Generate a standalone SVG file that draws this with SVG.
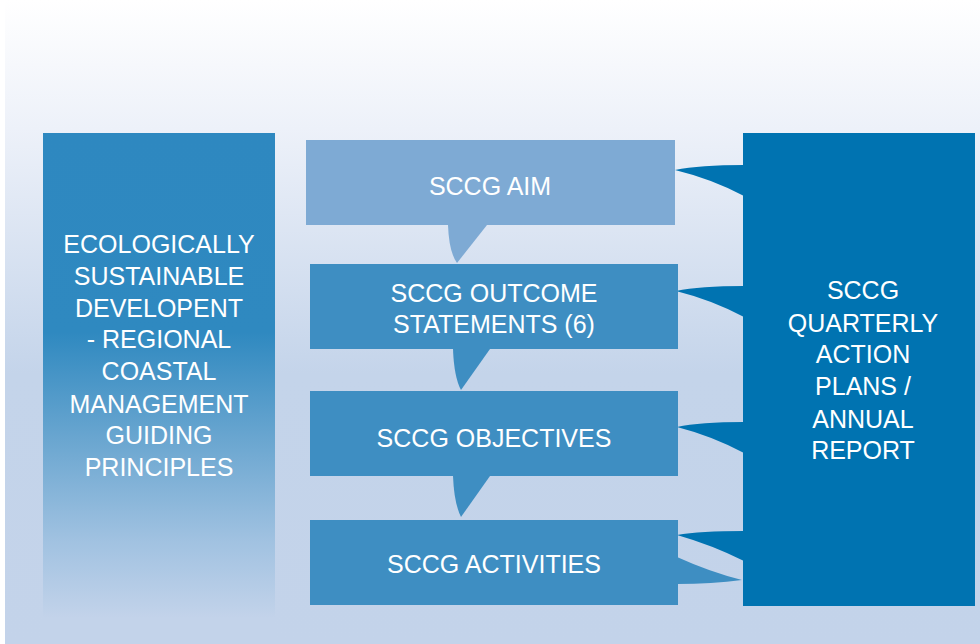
<svg xmlns="http://www.w3.org/2000/svg" width="980" height="644" viewBox="0 0 980 644">
<defs>
<linearGradient id="bg" x1="0" y1="0" x2="0" y2="644" gradientUnits="userSpaceOnUse">
<stop offset="0" stop-color="#ffffff"/>
<stop offset="0.2" stop-color="#edf1f9"/>
<stop offset="0.58" stop-color="#c4d4ea"/>
<stop offset="1" stop-color="#c3d3ea"/>
</linearGradient>
<linearGradient id="lg" x1="0" y1="133" x2="0" y2="644" gradientUnits="userSpaceOnUse">
<stop offset="0" stop-color="#2e88c0"/>
<stop offset="0.39" stop-color="#2f89c0"/>
<stop offset="0.6" stop-color="#6aa6d0"/>
<stop offset="0.8" stop-color="#a1c2e1"/>
<stop offset="0.95" stop-color="#c3d3ea"/>
</linearGradient>
</defs>
<style>
.t{font-family:"Liberation Sans",Arial,sans-serif;font-size:25px;fill:#ffffff;text-anchor:middle}
.mid{fill:#3e8ec2}
.aim{fill:#7eaad4}
.dark{fill:#0073b1}
</style>
<rect x="0" y="0" width="980" height="644" fill="#ffffff"/>
<rect x="5" y="0" width="975" height="644" fill="url(#bg)"/>

<g id="left">
<rect x="43" y="133" width="232" height="511" fill="url(#lg)"/>
<text class="t" x="159" y="253">ECOLOGICALLY</text>
<text class="t" x="159" y="285">SUSTAINABLE</text>
<text class="t" x="159" y="317">DEVELOPENT</text>
<text class="t" x="159" y="348">- REGIONAL</text>
<text class="t" x="159" y="380">COASTAL</text>
<text class="t" x="159" y="413">MANAGEMENT</text>
<text class="t" x="159" y="444">GUIDING</text>
<text class="t" x="159" y="476">PRINCIPLES</text>
</g>

<g id="right">
<rect class="dark" x="743" y="133" width="232" height="473"/>
<text class="t" x="863" y="299">SCCG</text>
<text class="t" x="863" y="332">QUARTERLY</text>
<text class="t" x="863" y="363">ACTION</text>
<text class="t" x="863" y="395">PLANS /</text>
<text class="t" x="863" y="428">ANNUAL</text>
<text class="t" x="863" y="459">REPORT</text>
</g>

<g id="connectors">
<path class="aim" d="M448,225 Q449,252 457,263 L487,225 Z"/>
<path class="mid" d="M453,349 Q454,377 461,390 L490,349 Z"/>
<path class="mid" d="M453,476 Q454,503 461,517 L490,476 Z"/>
<path class="dark" d="M675,170 Q700,165 744,165 L744,196 Q712,179 675,170 Z"/>
<path class="dark" d="M676,291 Q700,286 744,286 L744,317 Q712,300 676,291 Z"/>
<path class="dark" d="M677,427 Q700,422 744,422 L744,453 Q712,436 677,427 Z"/>
<path class="dark" d="M677,535 Q700,531 744,531 L744,561 Q712,545 677,535 Z"/>
<path class="mid" d="M677,557 Q710,572 742,580 Q712,584 677,584 Z"/>
</g>

<g id="aim">
<rect class="aim" x="306" y="140" width="369" height="85"/>
<text class="t" x="490" y="195">SCCG AIM</text>
</g>

<g id="outcome">
<rect class="mid" x="310" y="264" width="368" height="85"/>
<text class="t" x="494" y="302">SCCG OUTCOME</text>
<text class="t" x="494" y="333">STATEMENTS (6)</text>
</g>

<g id="objectives">
<rect class="mid" x="310" y="391" width="368" height="85"/>
<text class="t" x="494" y="447">SCCG OBJECTIVES</text>
</g>

<g id="activities">
<rect class="mid" x="310" y="520" width="368" height="85"/>
<text class="t" x="494" y="573">SCCG ACTIVITIES</text>
</g>
</svg>
